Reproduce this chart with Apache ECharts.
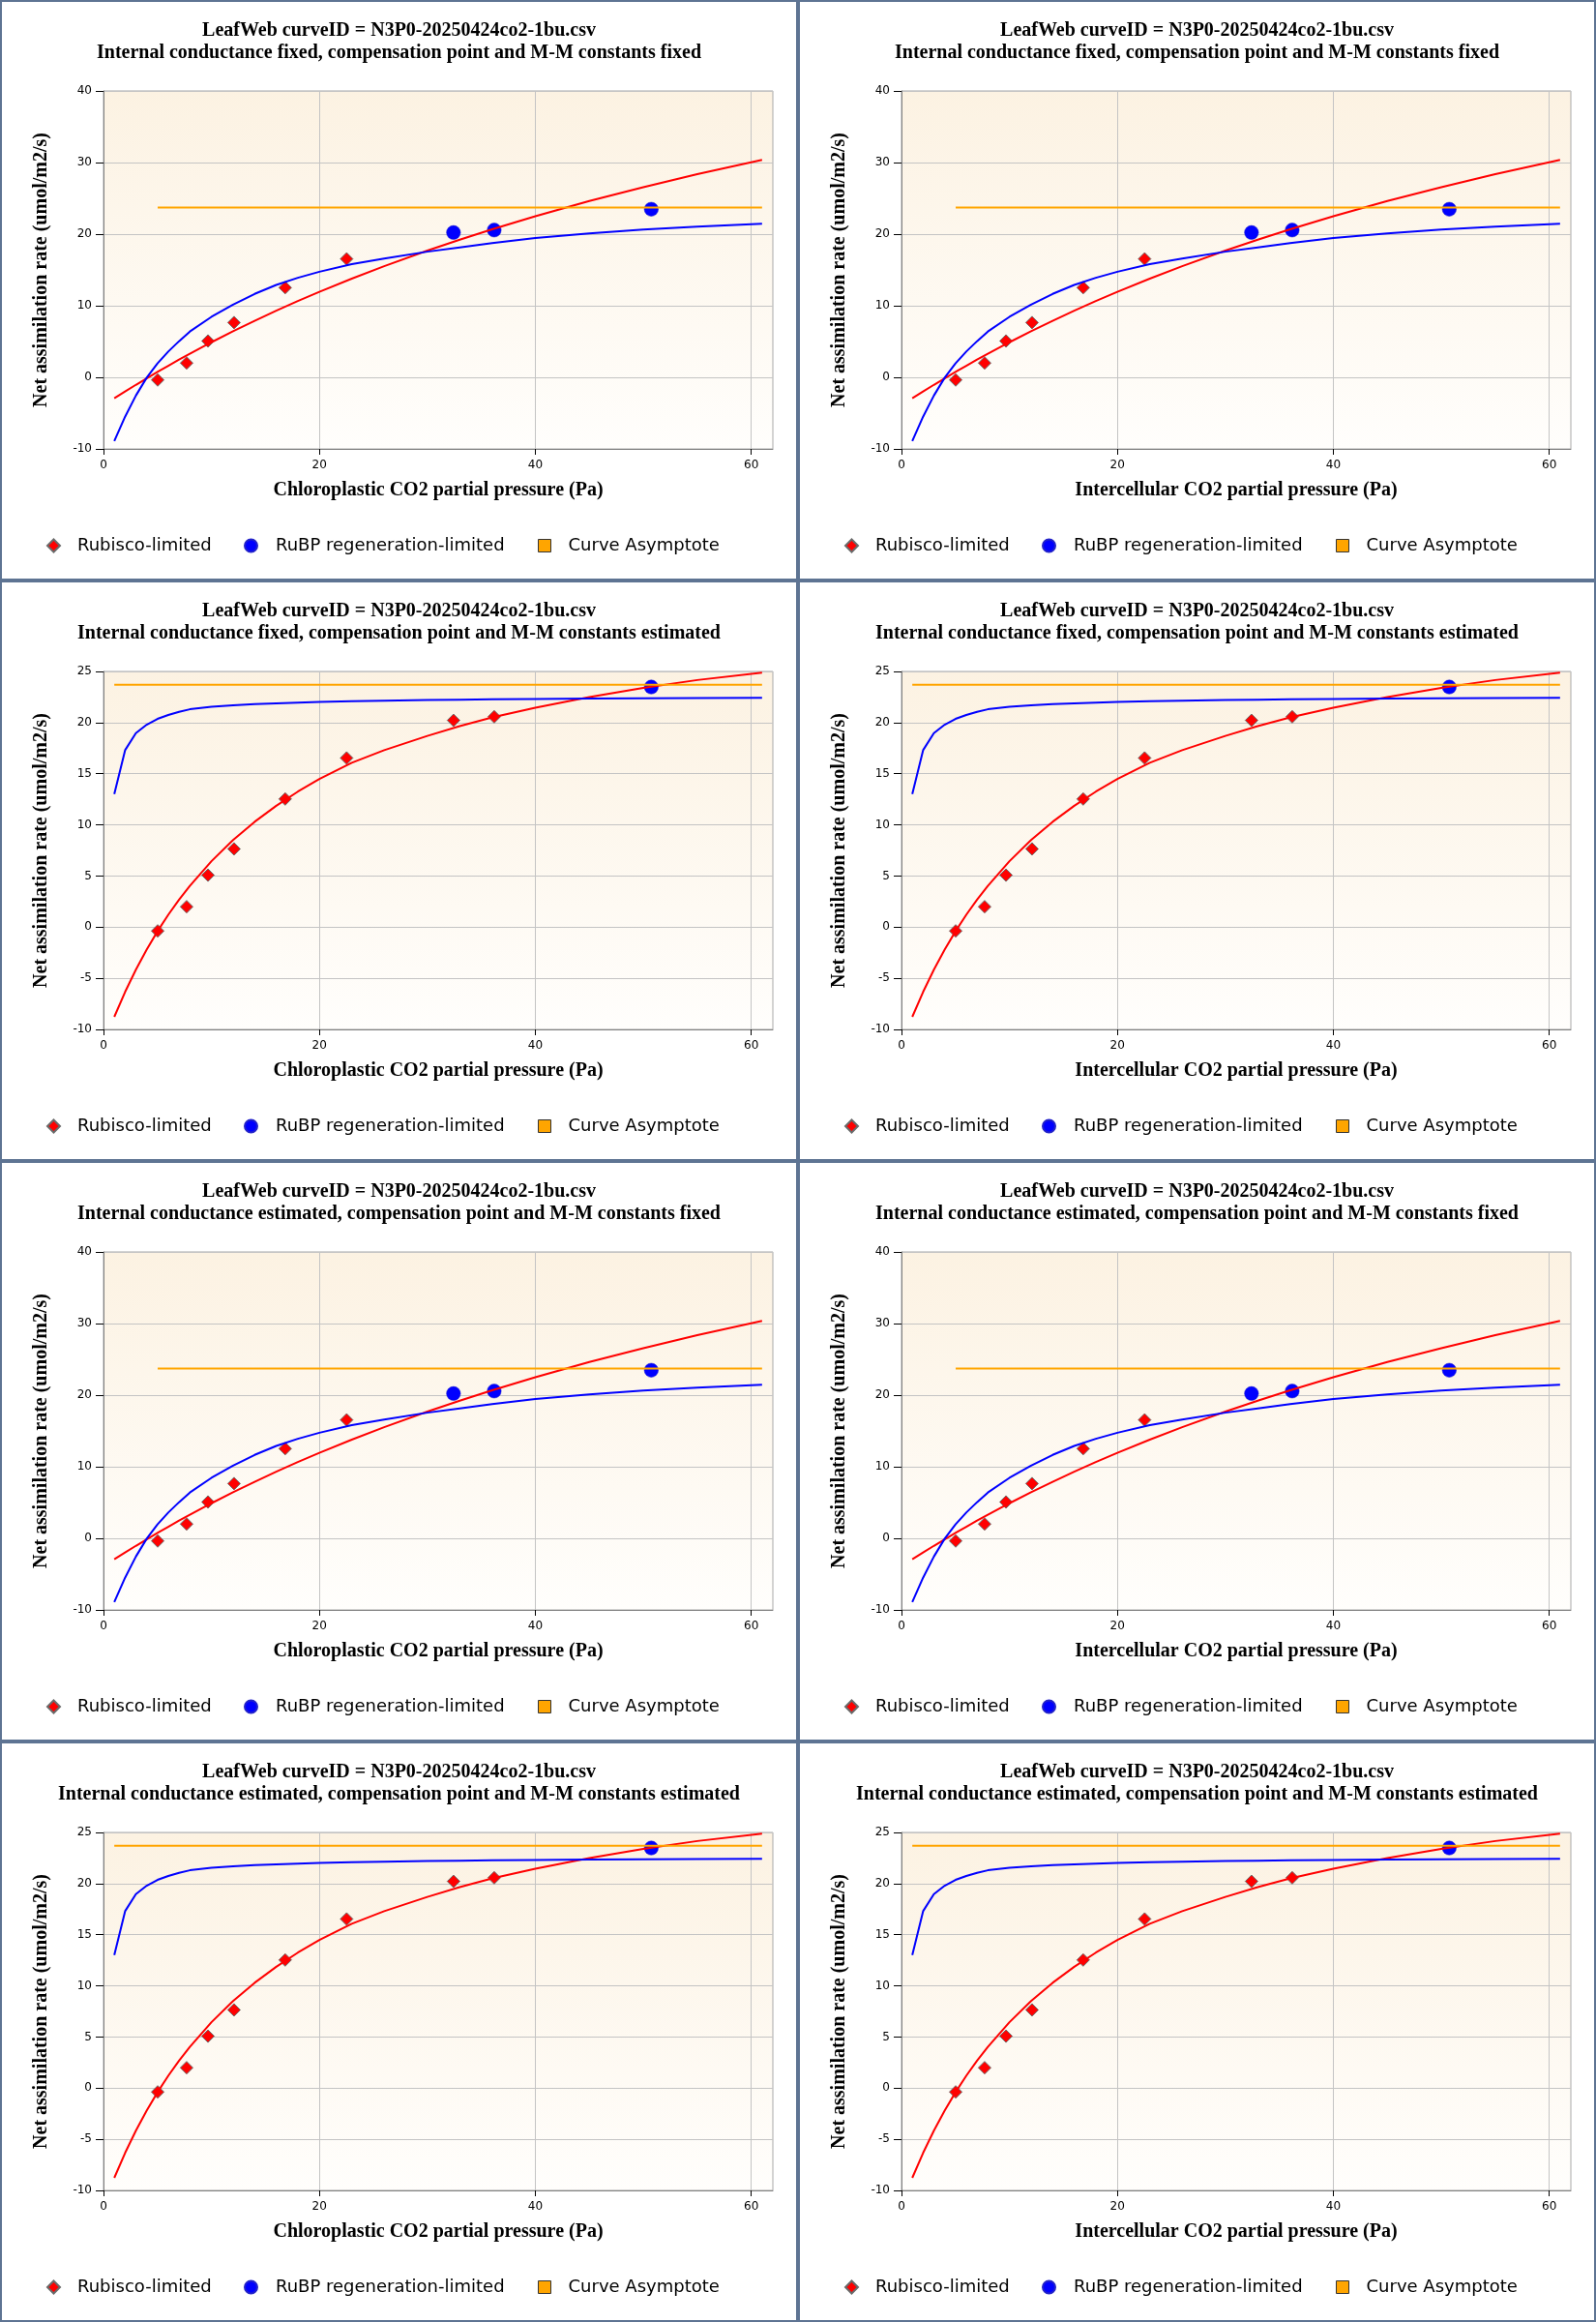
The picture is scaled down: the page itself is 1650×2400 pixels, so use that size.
<!DOCTYPE html>
<html>
<head>
  <meta charset="UTF-8">
  <title>LeafWeb curve fits</title>
  <script src="https://cdn.jsdelivr.net/npm/echarts@6/dist/echarts.min.js"></script>
  <style>
    html, body { margin: 0; padding: 0; background: #fff; }
    #wrap { position: relative; width: 1650px; height: 2400px; }
    .panel { position: absolute; width: 825px; height: 600px; box-sizing: border-box; border: 2px solid #5e7493; background: #fff; }
    .chart { width: 821px; height: 596px; }
  </style>
</head>
<body>
<div id="wrap"></div>
<script>
  // measured points (CO2 partial pressure, net assimilation)
  var obsC = [5.02, 7.70, 9.68, 12.09, 16.83, 22.52, 32.42, 36.19, 50.74];
  var obsA = [-0.37, 2.00, 5.08, 7.65, 12.53, 16.54, 20.22, 20.57, 23.48];
  // limitation assigned to each point: c = Rubisco, j = RuBP regeneration
  var limitsFixed = ['c', 'c', 'c', 'c', 'c', 'c', 'j', 'j', 'j'];
  var limitsEst   = ['c', 'c', 'c', 'c', 'c', 'c', 'c', 'c', 'j'];

  // fitted curves
  var curveC = [1, 2, 3, 4, 5, 6, 7, 8, 10, 12, 14, 16, 18, 20, 23, 26, 30, 33, 36, 40, 45, 50, 55, 61];
  var rubiscoFixed = [-2.93, -1.98, -1.05, -0.14, 0.75, 1.62, 2.47, 3.29, 4.90, 6.43, 7.89, 9.30, 10.65, 11.94,
                      13.79, 15.53, 17.70, 19.23, 20.68, 22.51, 24.62, 26.56, 28.37, 30.37];
  var rubpFixed    = [-8.90, -5.50, -2.55, -0.05, 1.95, 3.60, 5.05, 6.40, 8.45, 10.15, 11.65, 12.90, 13.90, 14.75,
                      15.80, 16.60, 17.55, 18.15, 18.75, 19.45, 20.10, 20.65, 21.05, 21.45];
  var rubiscoEst   = [-8.77, -6.34, -4.16, -2.19, -0.41, 1.21, 2.69, 4.04, 6.45, 8.51, 10.30, 11.86, 13.25, 14.48,
                      16.07, 17.30, 18.70, 19.65, 20.50, 21.46, 22.49, 23.39, 24.16, 24.88];
  var rubpEst      = [13.00, 17.30, 18.97, 19.79, 20.36, 20.74, 21.05, 21.30, 21.55, 21.70, 21.80, 21.88, 21.95, 22.02,
                      22.09, 22.15, 22.20, 22.24, 22.27, 22.30, 22.34, 22.37, 22.40, 22.43];
  var asymptote = 23.7;
  var asymFromFixed = 5.02;
  var asymFromEst = 1;
  var asymTo = 61;

  // axis ticks
  var xTicks = [0, 20, 40, 60];
  var yFixed = { min: -10, max: 40, interval: 10 };
  var yEst   = { min: -10, max: 25, interval: 5 };

  var titleTop = 'LeafWeb curveID = N3P0-20250424co2-1bu.csv';
  var subtitles = [
    'Internal conductance fixed, compensation point and M-M constants fixed',
    'Internal conductance fixed, compensation point and M-M constants estimated',
    'Internal conductance estimated, compensation point and M-M constants fixed',
    'Internal conductance estimated, compensation point and M-M constants estimated'
  ];
  var xNames = ['Chloroplastic CO2 partial pressure (Pa)', 'Intercellular CO2 partial pressure (Pa)'];
  var yName = 'Net assimilation rate (umol/m2/s)';

  function zip(xs, ys) {
    var out = [];
    for (var i = 0; i < xs.length; i++) out.push([xs[i], ys[i]]);
    return out;
  }
  function pick(limits, key) {
    var out = [];
    for (var i = 0; i < obsC.length; i++) {
      if (limits[i] === key) out.push([obsC[i], obsA[i]]);
    }
    return out;
  }

  var serif = { fontFamily: 'Liberation Serif', fontWeight: 'bold', fontSize: 20, color: '#000' };
  var sans = 'DejaVu Sans';

  function legendAt(left, name, extra, pad) {
    var item = { name: name };
    if (extra) { item.icon = extra.icon; item.itemStyle = extra.itemStyle; }
    return {
      data: [item], left: left, top: 553, padding: 0, orient: 'horizontal',
      itemWidth: 13, itemHeight: 13, selectedMode: false,
      textStyle: { fontFamily: sans, fontSize: 18, color: '#000', padding: [0, 0, 0, pad] }
    };
  }

  function makeOption(row, col) {
    var estimated = (row % 2 === 1);
    var limits = estimated ? limitsEst : limitsFixed;
    var yr = estimated ? yEst : yFixed;
    return {
      animation: false,
      title: {
        text: titleTop + '\n' + subtitles[row],
        left: 'center', top: 18, padding: 0,
        textStyle: { fontFamily: 'Liberation Serif', fontWeight: 'bold', fontSize: 20, lineHeight: 23.5, color: '#000' }
      },
      legend: [
        legendAt(46, 'Rubisco-limited', null, 13),
        legendAt(250, 'RuBP regeneration-limited', null, 14),
        legendAt(554, 'Curve Asymptote', { icon: 'rect', itemStyle: { color: '#ffa500', borderColor: '#333', borderWidth: 1 } }, 13)
      ],
      grid: {
        left: 105, top: 92, width: 692, height: 370, show: true,
        backgroundColor: new echarts.graphic.LinearGradient(0, 0, 0, 1, [
          { offset: 0, color: '#fcf2e2' }, { offset: 1, color: '#fffefc' }
        ]),
        borderColor: '#a8a8a8', borderWidth: 1
      },
      xAxis: {
        type: 'value', min: 0, max: 62, interval: 20,
        name: xNames[col], nameLocation: 'middle', nameGap: 33, nameTextStyle: serif,
        axisLine: { onZero: false, lineStyle: { color: '#808080', width: 1 } },
        axisTick: { show: true, length: 6, customValues: xTicks, lineStyle: { color: '#000' } },
        axisLabel: {
          margin: 11, color: '#000', fontFamily: sans, fontSize: 12, customValues: xTicks,
          formatter: function (v) { return v % 20 === 0 ? String(v) : ''; }
        },
        splitLine: { show: true, lineStyle: { color: '#c4c4c4', width: 1 } }
      },
      yAxis: {
        type: 'value', min: yr.min, max: yr.max, interval: yr.interval,
        name: yName, nameLocation: 'middle', nameGap: 54, nameRotate: 90, nameTextStyle: serif,
        axisLine: { show: true, onZero: false, lineStyle: { color: '#808080', width: 1 } },
        axisTick: { show: true, length: 8, lineStyle: { color: '#000' } },
        axisLabel: { margin: 12, color: '#000', fontFamily: sans, fontSize: 12 },
        splitLine: { show: true, lineStyle: { color: '#c4c4c4', width: 1 } }
      },
      series: [
        {
          name: 'Rubisco-limited', type: 'scatter', symbol: 'diamond', symbolSize: 13, z: 2,
          itemStyle: { color: '#ff0000', borderColor: '#6a6a6a', borderWidth: 1, opacity: 1 },
          data: pick(limits, 'c')
        },
        {
          name: 'RuBP regeneration-limited', type: 'scatter', symbol: 'circle', symbolSize: 14.5, z: 2,
          itemStyle: { color: '#0000ff', borderColor: '#2323c8', borderWidth: 0.5, opacity: 1 },
          data: pick(limits, 'j')
        },
        {
          name: 'Rubisco fit', type: 'line', showSymbol: false, z: 3,
          lineStyle: { color: '#ff0000', width: 2 }, itemStyle: { color: '#ff0000' },
          data: zip(curveC, estimated ? rubiscoEst : rubiscoFixed)
        },
        {
          name: 'RuBP fit', type: 'line', showSymbol: false, z: 3,
          lineStyle: { color: '#0000ff', width: 2 }, itemStyle: { color: '#0000ff' },
          data: zip(curveC, estimated ? rubpEst : rubpFixed)
        },
        {
          name: 'Curve Asymptote', type: 'line', showSymbol: false, z: 4,
          lineStyle: { color: '#ffa500', width: 2 }, itemStyle: { color: '#ffa500' },
          data: [[estimated ? asymFromEst : asymFromFixed, asymptote], [asymTo, asymptote]]
        }
      ]
    };
  }

  var wrap = document.getElementById('wrap');
  for (var row = 0; row < 4; row++) {
    for (var col = 0; col < 2; col++) {
      var panel = document.createElement('div');
      panel.className = 'panel';
      panel.style.left = (col * 825) + 'px';
      panel.style.top = (row * 600) + 'px';
      var el = document.createElement('div');
      el.className = 'chart';
      panel.appendChild(el);
      wrap.appendChild(panel);
      echarts.init(el).setOption(makeOption(row, col));
    }
  }
</script>
</body>
</html>
